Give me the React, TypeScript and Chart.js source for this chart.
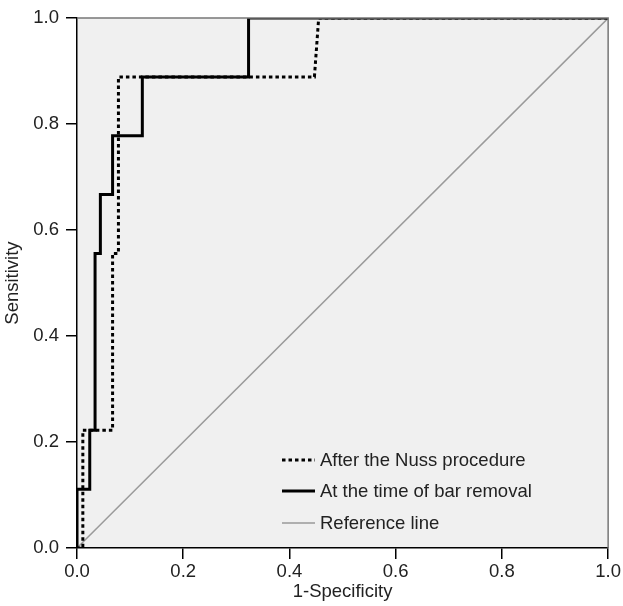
import React, { useEffect, useRef } from "react";
import { Chart, registerables } from "chart.js";

Chart.register(...registerables);

const nussX = [0, 0.011, 0.011, 0.067, 0.067, 0.078, 0.078, 0.447, 0.455, 1];
const nussY = [0, 0, 0.222, 0.222, 0.556, 0.556, 0.889, 0.889, 1, 1];

const barX = [0, 0, 0.024, 0.024, 0.034, 0.034, 0.044, 0.044, 0.067, 0.067, 0.123, 0.123, 0.323, 0.323, 1];
const barY = [0, 0.111, 0.111, 0.222, 0.222, 0.556, 0.556, 0.667, 0.667, 0.778, 0.778, 0.889, 0.889, 1, 1];

const refX = [0, 1];
const refY = [0, 1];

const seriesLabels = ["After the Nuss procedure", "At the time of bar removal", "Reference line"];
const xTitle = "1-Specificity";
const yTitle = "Sensitivity";

const FONT = "'Liberation Sans', Arial, Helvetica, sans-serif";
const TEXT = "#222";
const FS = 18.5;

const toPts = (xs: number[], ys: number[]) => xs.map((x, i) => ({ x, y: ys[i] }));

const framePlugin = {
  id: "frame",
  beforeDraw(chart: any) {
    const { ctx, chartArea: a } = chart;
    ctx.save();
    ctx.fillStyle = "#f0f0f0";
    ctx.fillRect(a.left, a.top, a.right - a.left, a.bottom - a.top);
    ctx.restore();
  },
  afterDatasetsDraw(chart: any) {
    const { ctx, chartArea: a } = chart;
    ctx.save();
    ctx.strokeStyle = "#777";
    ctx.lineWidth = 1.5;
    ctx.beginPath();
    ctx.moveTo(a.left, a.top);
    ctx.lineTo(a.right, a.top);
    ctx.lineTo(a.right, a.bottom);
    ctx.stroke();
    ctx.restore();
  },
  afterDraw(chart: any) {
    const { ctx, chartArea: a } = chart;
    const rows = [-88, -57, -25];
    ctx.save();
    chart.data.datasets.forEach((ds: any, i: number) => {
      const y = a.bottom + rows[i];
      const x0 = a.left + 205;
      ctx.beginPath();
      ctx.strokeStyle = ds.borderColor;
      ctx.lineWidth = ds.borderWidth;
      ctx.setLineDash(ds.borderDash || []);
      ctx.lineCap = "butt";
      ctx.moveTo(x0, y);
      ctx.lineTo(x0 + 33, y);
      ctx.stroke();
      ctx.setLineDash([]);
      ctx.fillStyle = TEXT;
      ctx.font = `${FS}px ${FONT}`;
      ctx.textBaseline = "middle";
      ctx.textAlign = "left";
      ctx.fillText(ds.label, x0 + 38, y + 1);
    });
    ctx.restore();
  },
};

export default function App() {
  const ref = useRef<HTMLCanvasElement | null>(null);
  useEffect(() => {
    document.body.style.margin = "0";
    if (!ref.current) return;
    const chart = new Chart(ref.current, {
      type: "scatter",
      data: {
        datasets: [
          {
            label: seriesLabels[0],
            data: toPts(nussX, nussY),
            showLine: true,
            borderColor: "#000",
            borderWidth: 3,
            borderDash: [3.5, 3],
            pointRadius: 0,
            tension: 0,
          },
          {
            label: seriesLabels[1],
            data: toPts(barX, barY),
            showLine: true,
            borderColor: "#000",
            borderWidth: 3,
            pointRadius: 0,
            tension: 0,
          },
          {
            label: seriesLabels[2],
            data: toPts(refX, refY),
            showLine: true,
            borderColor: "#9a9a9a",
            borderWidth: 1.5,
            pointRadius: 0,
            tension: 0,
          },
        ],
      },
      options: {
        animation: false,
        responsive: true,
        maintainAspectRatio: false,
        layout: { padding: { left: 0, right: 13, top: 17, bottom: 0 } },
        plugins: { legend: { display: false }, tooltip: { enabled: false } },
        scales: {
          x: {
            type: "linear",
            min: 0,
            max: 1,
            afterFit: (s: any) => {
              s.height = 58;
            },
            ticks: {
              stepSize: 0.2,
              color: TEXT,
              font: { family: FONT, size: FS },
              padding: 2,
              maxRotation: 0,
              callback: (v: any) => Number(v).toFixed(1),
            },
            grid: { drawOnChartArea: false, drawTicks: true, tickLength: 11, color: "#000", lineWidth: 1.5 },
            border: { display: true, color: "#000", width: 1.5 },
            title: { display: true, text: xTitle, color: TEXT, font: { family: FONT, size: FS }, padding: { top: 0, bottom: 3 } },
          },
          y: {
            type: "linear",
            min: 0,
            max: 1,
            afterFit: (s: any) => {
              s.width = 77;
            },
            ticks: {
              stepSize: 0.2,
              color: TEXT,
              font: { family: FONT, size: FS },
              padding: 7,
              callback: (v: any) => Number(v).toFixed(1),
            },
            grid: { drawOnChartArea: false, drawTicks: true, tickLength: 11, color: "#000", lineWidth: 1.5 },
            border: { display: true, color: "#000", width: 1.5 },
            title: { display: true, text: yTitle, color: TEXT, font: { family: FONT, size: FS }, padding: { top: 2, bottom: 0 } },
          },
        },
      },
      plugins: [framePlugin],
    });
    return () => chart.destroy();
  }, []);
  return (
    <div style={{ width: 623, height: 606, position: "relative" }}>
      <canvas ref={ref} />
    </div>
  );
}
